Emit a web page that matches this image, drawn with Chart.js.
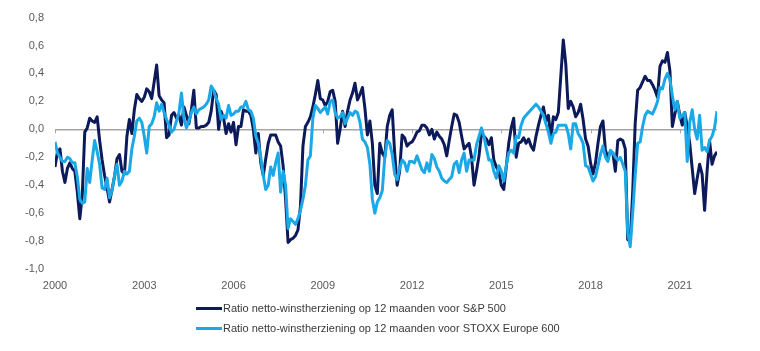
<!DOCTYPE html>
<html>
<head>
<meta charset="utf-8">
<script src="https://cdn.jsdelivr.net/npm/chart.js@4.4.1/dist/chart.umd.min.js"></script>
<style>
  html, body { margin: 0; padding: 0; background: #ffffff; }
  #wrap { position: relative; width: 760px; height: 351px; overflow: hidden; }
  #legend { position: absolute; left: 196px; top: 298px; font-family: "Liberation Sans", Arial, sans-serif; font-size: 11px; color: #3a3a3a; }
  .row { display: flex; align-items: center; height: 20px; }
  .sym { width: 26px; height: 3px; margin-right: 1px; }
</style>
</head>
<body>
<div id="wrap">
  <canvas id="c" width="760" height="351"></canvas>
  <div id="legend"></div>
</div>
<script>
// ---- data (monthly, starting at the first month of 2000) ----
const seriesNames = [
  "Ratio netto-winstherziening op 12 maanden voor S&P 500",
  "Ratio netto-winstherziening op 12 maanden voor STOXX Europe 600"
];
const sp500 = [
  -0.27,-0.16,-0.14,-0.30,-0.38,-0.28,-0.24,-0.28,-0.30,-0.45,-0.64,-0.47,
  -0.02,0.01,0.08,0.06,0.05,0.09,-0.08,-0.22,-0.33,-0.42,-0.52,-0.43,
  -0.34,-0.21,-0.18,-0.30,-0.32,-0.05,0.07,-0.03,0.14,0.25,0.22,0.20,
  0.23,0.29,0.27,0.22,0.34,0.46,0.24,0.21,0.19,-0.06,-0.04,0.10,
  0.12,0.08,0.10,0.03,0.16,0.10,0.04,0.14,0.28,0.01,0.01,0.02,
  0.02,0.03,0.05,0.13,0.28,0.25,0.00,0.13,0.08,-0.03,0.04,-0.02,
  0.05,-0.11,0.02,0.02,0.14,0.13,0.13,0.10,0.00,-0.17,-0.03,-0.24,
  -0.33,-0.21,-0.10,-0.04,-0.04,-0.04,-0.09,-0.12,-0.26,-0.50,-0.81,-0.79,
  -0.78,-0.76,-0.72,-0.55,-0.12,0.02,0.05,0.09,0.16,0.25,0.35,0.22,
  0.21,0.17,0.20,0.27,0.28,0.20,-0.10,0.00,0.13,0.02,0.13,0.21,
  0.26,0.33,0.21,0.25,0.30,0.15,-0.04,0.06,-0.10,-0.40,-0.46,-0.10,
  -0.17,-0.20,0.02,0.10,0.14,-0.17,-0.40,-0.30,-0.04,-0.06,-0.12,-0.10,
  -0.09,-0.06,-0.02,-0.01,0.03,0.03,0.01,-0.04,0.00,-0.07,-0.02,-0.05,
  -0.07,-0.11,-0.19,-0.08,0.02,0.11,0.10,0.05,-0.05,-0.14,-0.12,-0.10,
  -0.20,-0.40,-0.30,-0.19,-0.03,-0.05,-0.07,-0.11,-0.06,-0.22,-0.27,-0.30,
  -0.40,-0.43,-0.27,-0.10,0.01,0.08,-0.20,-0.10,-0.09,-0.06,-0.10,-0.07,
  -0.12,-0.15,-0.05,0.03,0.10,0.16,0.06,0.10,-0.06,0.09,0.07,0.12,
  0.38,0.64,0.47,0.15,0.20,0.16,0.09,0.12,0.18,0.07,-0.07,-0.12,
  -0.24,-0.32,-0.24,-0.10,0.02,0.06,-0.15,-0.20,-0.16,-0.17,-0.30,-0.08,
  -0.07,-0.08,-0.14,-0.79,-0.80,-0.45,0.04,0.28,0.30,0.34,0.38,0.35,
  0.35,0.32,0.28,0.23,0.45,0.49,0.48,0.55,0.42,0.02,0.11,0.20,
  0.10,0.03,0.12,0.02,-0.10,-0.28,-0.46,-0.35,-0.25,-0.32,-0.58,-0.30,
  -0.08,-0.25,-0.19,-0.16
];
const stoxx600 = [
  -0.09,-0.17,-0.20,-0.23,-0.23,-0.20,-0.21,-0.24,-0.24,-0.34,-0.50,-0.53,
  -0.52,-0.28,-0.38,-0.22,-0.08,-0.16,-0.25,-0.42,-0.43,-0.35,-0.49,-0.44,
  -0.33,-0.25,-0.40,-0.37,-0.30,-0.32,-0.30,-0.14,-0.05,0.06,0.08,0.05,
  -0.05,-0.17,0.02,0.04,0.09,0.19,0.13,0.18,0.12,0.07,0.03,-0.02,
  0.00,0.06,0.12,0.26,0.08,0.01,0.06,0.12,0.16,0.11,0.14,0.15,
  0.16,0.18,0.21,0.31,0.28,0.22,0.18,0.07,0.10,0.08,0.17,0.10,
  0.11,0.13,0.13,0.16,0.16,0.20,0.14,0.13,0.08,-0.05,-0.10,-0.20,
  -0.33,-0.43,-0.40,-0.27,-0.33,-0.24,-0.17,-0.45,-0.30,-0.40,-0.71,-0.64,
  -0.66,-0.68,-0.64,-0.58,-0.50,-0.40,-0.22,-0.19,0.08,0.17,0.15,0.12,
  0.14,0.16,0.11,0.20,0.21,0.12,0.08,0.09,0.12,0.04,0.08,0.12,
  0.10,0.13,0.12,0.05,-0.07,-0.09,-0.13,-0.25,-0.50,-0.60,-0.52,-0.49,
  -0.44,-0.20,-0.08,-0.10,-0.18,-0.32,-0.36,-0.28,-0.22,-0.24,-0.30,-0.23,
  -0.23,-0.24,-0.19,-0.24,-0.29,-0.31,-0.24,-0.30,-0.18,-0.21,-0.27,-0.30,
  -0.35,-0.37,-0.38,-0.36,-0.34,-0.25,-0.23,-0.31,-0.22,-0.17,-0.30,-0.22,
  -0.22,-0.22,-0.11,-0.05,0.01,-0.05,-0.14,-0.22,-0.22,-0.30,-0.35,-0.26,
  -0.30,-0.37,-0.26,-0.17,-0.15,-0.17,-0.05,-0.06,0.03,0.08,0.10,0.12,
  0.14,0.16,0.18,0.16,0.13,0.10,0.04,-0.02,-0.10,-0.03,-0.02,0.03,
  0.03,0.03,0.03,-0.03,-0.14,0.04,0.04,-0.03,-0.06,-0.10,-0.26,-0.27,
  -0.32,-0.37,-0.34,-0.26,-0.18,-0.12,-0.20,-0.23,-0.15,-0.17,-0.20,-0.22,
  -0.20,-0.25,-0.30,-0.74,-0.84,-0.60,-0.33,-0.10,-0.09,0.02,0.10,0.13,
  0.12,0.11,0.15,0.20,0.30,0.29,0.36,0.40,0.36,0.24,0.14,0.20,
  0.08,0.10,0.12,-0.23,0.05,0.14,0.00,-0.07,0.10,-0.15,-0.13,-0.16,
  -0.08,-0.05,0.01,0.13
];
const startYear = 2000;
const tickYears = [2000, 2003, 2006, 2009, 2012, 2015, 2018, 2021];
const yTicks = [-1.0, -0.8, -0.6, -0.4, -0.2, 0.0, 0.2, 0.4, 0.6, 0.8];

// month positions (fractional years) as x categories
const months = sp500.map((_, i) => startYear + i / 12);

const colors = ["#0c1a5b", "#1ba8e6"];
const axisGrey = "#a6a6a6";
const labelGrey = "#595959";
const fontFam = "'Liberation Sans', Arial, sans-serif";

const zeroTicks = {
  id: 'zeroTicks',
  beforeDatasetsDraw(chart) {
    const x = chart.scales.x, y = chart.scales.y;
    const y0 = y.getPixelForValue(0);
    const ctx = chart.ctx;
    ctx.save();
    ctx.strokeStyle = axisGrey;
    ctx.lineWidth = 1;
    tickYears.forEach(t => {
      const px = Math.round(x.getPixelForValue(t)) + 0.5;
      ctx.beginPath();
      ctx.moveTo(px, y0);
      ctx.lineTo(px, y0 + 4);
      ctx.stroke();
    });
    ctx.restore();
  }
};

const chart = new Chart(document.getElementById('c'), {
  type: 'line',
  data: {
    labels: months,
    datasets: [
      { label: seriesNames[0], data: sp500, borderColor: colors[0], backgroundColor: colors[0],
        borderWidth: 3, pointRadius: 0, tension: 0, order: 1, borderJoinStyle: 'round' },
      { label: seriesNames[1], data: stoxx600, borderColor: colors[1], backgroundColor: colors[1],
        borderWidth: 3, pointRadius: 0, tension: 0, order: 0, borderJoinStyle: 'round' }
    ]
  },
  options: {
    responsive: false,
    animation: false,
    layout: { padding: { top: 14, right: 43, left: 0, bottom: 0 } },
    plugins: { legend: { display: false }, tooltip: { enabled: false } },
    scales: {
      x: {
        type: 'linear',
        min: startYear,
        max: months[months.length - 1],
        afterBuildTicks: s => { s.ticks = tickYears.map(v => ({ value: v })); },
        afterFit: s => { s.height = 82; },
        grid: { display: false },
        border: { display: false },
        ticks: { color: labelGrey, font: { family: fontFam, size: 11 }, padding: 2,
                 maxRotation: 0, autoSkip: false, callback: v => String(v) }
      },
      y: {
        min: -1, max: 0.8,
        afterBuildTicks: s => { s.ticks = yTicks.map(v => ({ value: v })); },
        afterFit: s => { s.width = 55; },
        border: { display: false },
        grid: { drawTicks: false, lineWidth: 1.5,
                color: c => (c.tick && Math.abs(c.tick.value) < 1e-9) ? axisGrey : 'rgba(0,0,0,0)' },
        ticks: { color: labelGrey, font: { family: fontFam, size: 11 }, padding: 11,
                 callback: v => v.toFixed(1).replace('.', ',') }
      }
    }
  },
  plugins: [zeroTicks]
});

// legend built from the chart's datasets
const leg = document.getElementById('legend');
chart.data.datasets.forEach(ds => {
  const row = document.createElement('div');
  row.className = 'row';
  const sym = document.createElement('span');
  sym.className = 'sym';
  sym.style.background = ds.borderColor;
  const txt = document.createElement('span');
  txt.textContent = ds.label;
  row.appendChild(sym); row.appendChild(txt);
  leg.appendChild(row);
});
</script>
</body>
</html>
